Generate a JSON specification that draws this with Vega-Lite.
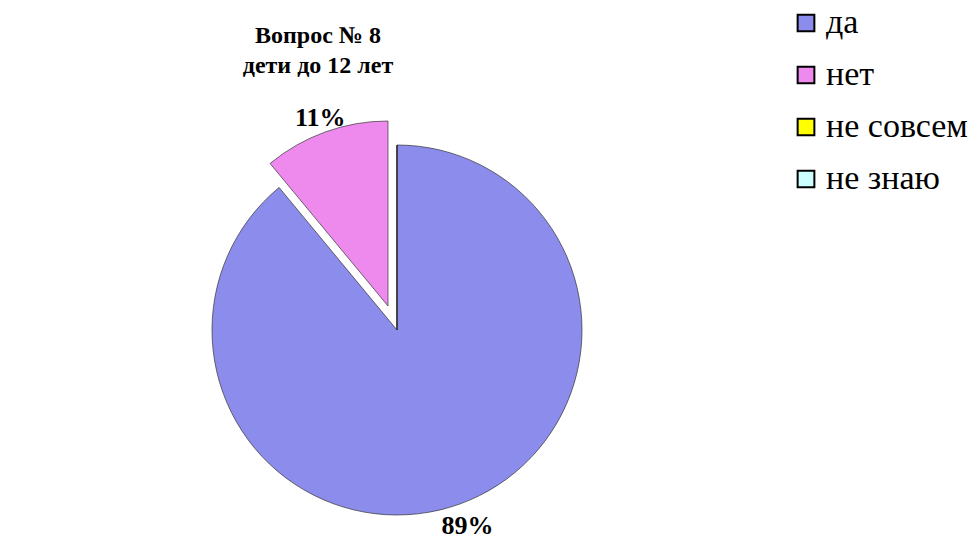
{
  "$schema": "https://vega.github.io/schema/vega-lite/v6.json",
  "width": 794,
  "height": 438,
  "autosize": {"type": "none"},
  "padding": {"left": 0, "top": 111, "right": 177, "bottom": 0},
  "background": "white",
  "title": {
    "text": ["Вопрос № 8", "дети до 12 лет"],
    "font": "Liberation Serif",
    "fontSize": 24,
    "fontWeight": "bold",
    "color": "black",
    "anchor": "middle",
    "frame": "group",
    "dx": -79,
    "offset": -72,
    "lineHeight": 30
  },
  "data": {
    "values": [
      {"answer": "да", "pct": 89, "ord": 1, "label": "89%"},
      {"answer": "нет", "pct": 11, "ord": 2, "label": "11%"},
      {"answer": "не совсем", "pct": 0, "ord": 3, "label": ""},
      {"answer": "не знаю", "pct": 0, "ord": 4, "label": ""}
    ]
  },
  "encoding": {
    "theta": {"field": "pct", "type": "quantitative", "stack": true},
    "order": {"field": "ord", "type": "quantitative"},
    "color": {
      "field": "answer",
      "type": "nominal",
      "scale": {
        "domain": ["да", "нет", "не совсем", "не знаю"],
        "range": ["#8c8cec", "#ee8aee", "#ffff00", "#ccffff"]
      },
      "legend": {
        "title": null,
        "orient": "none",
        "legendX": 789,
        "legendY": -105,
        "symbolType": "square",
        "symbolSize": 280,
        "symbolStrokeColor": "black",
        "symbolStrokeWidth": 2,
        "symbolOpacity": 1,
        "labelFont": "Liberation Serif",
        "labelFontSize": 34,
        "labelColor": "black",
        "labelOffset": 3,
        "rowPadding": 18,
        "labelLimit": 300
      }
    }
  },
  "layer": [
    {
      "mark": {"type": "arc", "outerRadius": 185, "stroke": "#333333", "strokeWidth": 0.7},
      "encoding": {
        "opacity": {"condition": {"test": "datum.answer === 'нет'", "value": 0}, "value": 1}
      }
    },
    {
      "mark": {"type": "arc", "outerRadius": 185, "stroke": "#333333", "strokeWidth": 0.7, "xOffset": -9, "yOffset": -24},
      "encoding": {
        "opacity": {"condition": {"test": "datum.answer === 'нет'", "value": 1}, "value": 0}
      }
    },
    {
      "mark": {"type": "text", "radius": 208, "font": "Liberation Serif", "fontSize": 26, "fontWeight": "bold", "color": "black"},
      "encoding": {
        "text": {"field": "label", "type": "nominal"},
        "color": {"value": "black"},
        "opacity": {"condition": {"test": "datum.answer === 'да'", "value": 1}, "value": 0}
      }
    },
    {
      "mark": {"type": "text", "radius": 200, "font": "Liberation Serif", "fontSize": 26, "fontWeight": "bold", "color": "black", "xOffset": -9, "yOffset": -24},
      "encoding": {
        "text": {"field": "label", "type": "nominal"},
        "color": {"value": "black"},
        "opacity": {"condition": {"test": "datum.answer === 'нет'", "value": 1}, "value": 0}
      }
    }
  ]
}
